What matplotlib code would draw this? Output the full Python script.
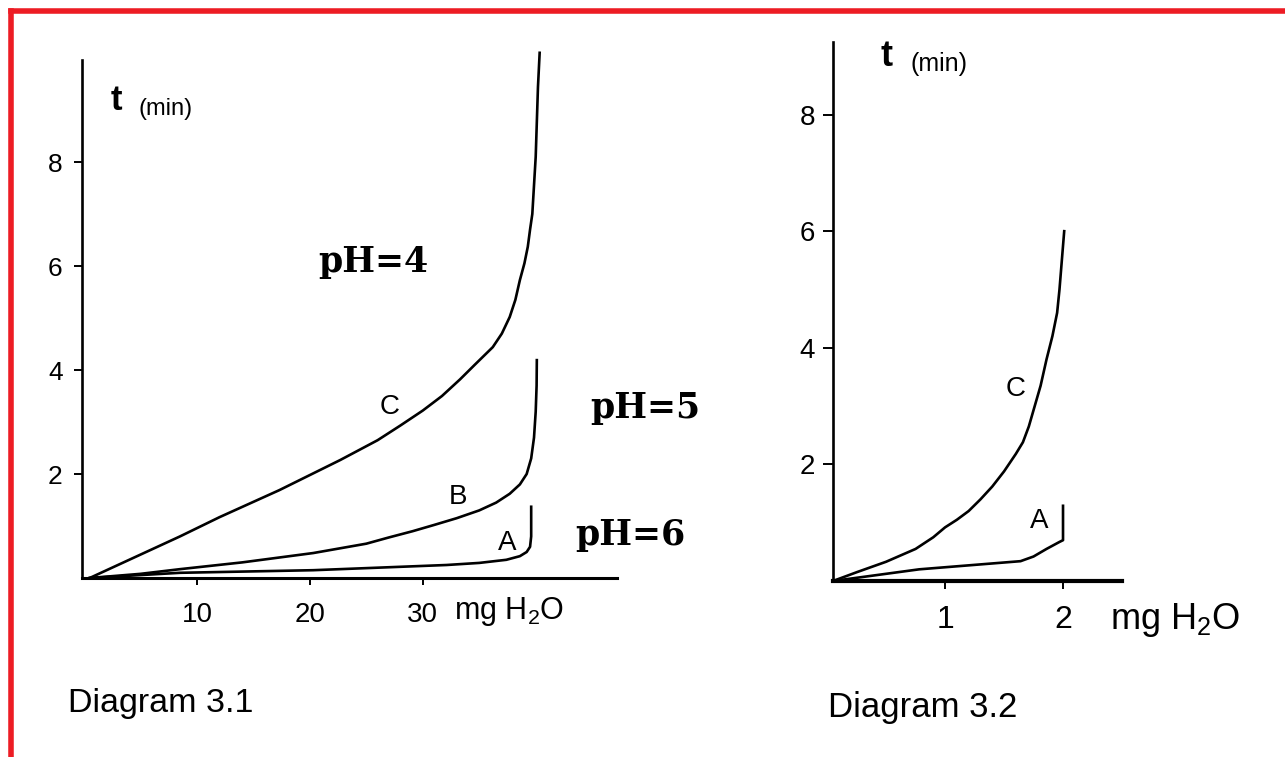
"""
Two titration-style diagrams: time vs mg H2O for different pH values
"""
import matplotlib
matplotlib.use('Agg')
import matplotlib.pyplot as plt
from matplotlib.lines import Line2D

# Diagram 3.1 (mg H2O, t in min)
left_c_x = [0.5, 3, 6, 8.5, 12, 17.3, 22.7, 26, 28, 30, 31.7, 33.3, 34.6, 36.2, 37, 37.7, 38.2, 38.6, 39.0,
            39.3, 39.5, 39.7, 40.0, 40.2, 40.35]
left_c_t = [0, 0.25, 0.55, 0.8, 1.17, 1.69, 2.27, 2.65, 2.93, 3.22, 3.5, 3.82, 4.1, 4.44, 4.7, 5.02, 5.35, 5.73,
            6.05, 6.37, 6.7, 7.0, 8.1, 9.44, 10.1]
left_b_x = [0.5, 5, 8.5, 14, 20.3, 25, 27, 29.1, 31, 33, 35, 36.5, 37.7, 38.6, 39.2, 39.6, 39.85, 40.0, 40.08, 40.1]
left_b_t = [0, 0.08, 0.17, 0.3, 0.48, 0.66, 0.78, 0.9, 1.02, 1.15, 1.3, 1.45, 1.62, 1.8, 2.0, 2.3, 2.7, 3.2, 3.7, 4.19]
left_a_x = [0.5, 8.5, 20.3, 32.1, 35, 37.4, 38.6, 39.2, 39.5, 39.6, 39.6]
left_a_t = [0, 0.1, 0.15, 0.25, 0.29, 0.35, 0.42, 0.5, 0.6, 0.8, 1.37]
left_xticks = [10, 20, 30]
left_yticks = [2, 4, 6, 8]

# Diagram 3.2
right_c_x = [0.05, 0.25, 0.5, 0.75, 0.9, 1.0, 1.1, 1.2, 1.3, 1.4, 1.5, 1.6, 1.66, 1.71, 1.76, 1.81, 1.86,
             1.91, 1.95, 1.97, 1.99, 2.01]
right_c_t = [0, 0.15, 0.33, 0.55, 0.75, 0.92, 1.05, 1.2, 1.4, 1.62, 1.88, 2.18, 2.38, 2.65, 3.0, 3.35, 3.8,
             4.2, 4.6, 5.0, 5.5, 6.0]
right_a_x = [0.05, 0.78, 1.64, 1.75, 1.86, 1.97, 2.0, 2.0]
right_a_t = [0, 0.2, 0.34, 0.42, 0.55, 0.67, 0.7, 1.29]
right_xticks = [1, 2]
right_yticks = [2, 4, 6, 8]

W, H = 1285, 757
plt.rcParams['font.family'] = ['Liberation Sans', 'DejaVu Sans']
plt.rcParams['mathtext.fontset'] = 'custom'
plt.rcParams['mathtext.rm'] = 'Liberation Sans'


def px(x, y):
    return x / W, 1 - y / H


def rect(l, t, r, b):
    return [l / W, 1 - b / H, (r - l) / W, (b - t) / H]


def style_axes(ax, lw_x, lw_y):
    for s in ['top', 'right']:
        ax.spines[s].set_visible(False)
    ax.spines['left'].set_linewidth(lw_y)
    ax.spines['bottom'].set_linewidth(lw_x)
    ax.patch.set_alpha(0)


fig = plt.figure(figsize=(W / 100, H / 100), dpi=100)
fig.patch.set_facecolor('white')

# --- left diagram
ax1 = fig.add_axes(rect(82, 45, 617, 578))
style_axes(ax1, 2.2, 1.9)
ax1.set_xlim(-0.18, 47.2)
ax1.set_ylim(0, 10.25)
ax1.spines['left'].set_bounds(0, 9.96)
for xs, ts in [(left_c_x, left_c_t), (left_b_x, left_b_t), (left_a_x, left_a_t)]:
    ax1.plot(xs, ts, color='black', lw=1.9, clip_on=False, solid_joinstyle='round')
ax1.set_xticks(left_xticks)
ax1.set_yticks(left_yticks)
ax1.tick_params(axis='x', direction='out', length=5, width=1.4, pad=12, labelsize=20)
ax1.tick_params(axis='y', direction='out', length=6, width=1.4, pad=8, labelsize=19)
ax1.text(27.1, 3.29, 'C', fontsize=20, ha='center', va='center')
ax1.text(33.1, 1.56, 'B', fontsize=20, ha='center', va='center')
ax1.text(37.5, 0.67, 'A', fontsize=20, ha='center', va='center')

# --- right diagram
ax2 = fig.add_axes(rect(833, 42, 1122, 581))
style_axes(ax2, 3.0, 1.9)
ax2.set_xlim(0.05, 2.5)
ax2.set_ylim(0, 9.245)
for xs, ts in [(right_c_x, right_c_t), (right_a_x, right_a_t)]:
    ax2.plot(xs, ts, color='black', lw=1.9, clip_on=False, solid_joinstyle='round')
ax2.set_xticks(right_xticks)
ax2.set_yticks(right_yticks)
ax2.tick_params(axis='x', direction='out', length=6, width=1.4, pad=11, labelsize=23)
ax2.tick_params(axis='y', direction='out', length=7, width=1.4, pad=6, labelsize=20)
ax2.text(1.6, 3.29, 'C', fontsize=20, ha='center', va='center')
ax2.text(1.8, 1.03, 'A', fontsize=20, ha='center', va='center')

# --- axis titles and captions
fig.text(*px(116, 100), 't', fontsize=25, fontweight='bold', ha='center', va='center')
fig.text(*px(138, 109), '(min)', fontsize=17, ha='left', va='center')
fig.text(*px(454, 612), r'mg H$_\mathregular{2}$O', fontsize=22, ha='left', va='center')
fig.text(*px(68, 712), 'Diagram 3.1', fontsize=24.5, ha='left', va='baseline')

fig.text(*px(887, 56), 't', fontsize=26, fontweight='bold', ha='center', va='center')
fig.text(*px(911, 64), '(min)', fontsize=18, ha='left', va='center')
fig.text(*px(1110, 620), r'mg H$_\mathregular{2}$O', fontsize=26, ha='left', va='center')
fig.text(*px(828, 717), 'Diagram 3.2', fontsize=25, ha='left', va='baseline')

# --- pH annotations
for x, y, s in [(318, 272, 'pH=4'), (590, 418, 'pH=5'), (575, 545, 'pH=6')]:
    fig.text(*px(x, y), s, fontsize=25, fontweight='bold', family='DejaVu Serif',
             ha='left', va='baseline')

# --- red frame (top and left)
red = '#ED1C24'
fig.add_artist(Line2D([10.5 / W, 1], [1 - 10.5 / H, 1 - 10.5 / H], color=red, lw=4))
fig.add_artist(Line2D([10.5 / W, 10.5 / W], [0, 1 - 10.5 / H], color=red, lw=4))

fig.savefig('out.png', dpi=100)
